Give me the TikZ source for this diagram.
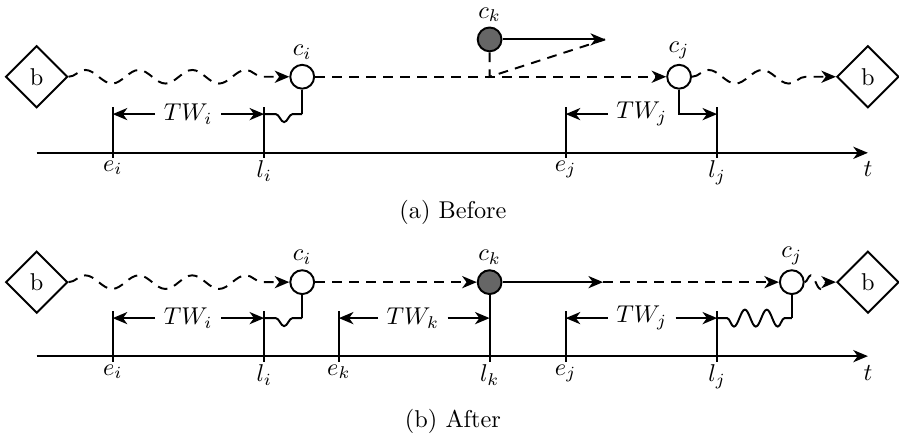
\documentclass[tikz,border=0pt]{standalone}
\usepackage{amsmath,amssymb}
\usepackage{xcolor}
\usepackage{tikz}
\usetikzlibrary{arrows.meta, positioning, shapes.geometric, decorations.pathmorphing}

\begin{document}
\begin{tikzpicture}[
  every label/.style={inner sep=1.8pt},
  depot/.style={draw, thick, diamond, aspect=1, minimum size=25.5pt, inner sep=0pt, fill=white},
  cust/.style={draw, thick, circle, minimum size=9.8pt, inner sep=0pt, fill=white},
  served/.style={cust, fill=black!60},
  arrow/.style={-{Stealth[length=6pt, width=5pt, inset=1.8pt]}, thick},
  route/.style={arrow, dash pattern=on 4pt off 3pt},
  wavy/.style={route, decorate, decoration={snake, segment length=22pt, amplitude=2.8pt, post length=3pt}},
  tickline/.style={thick},
  tlabel/.style={anchor=north, inner sep=1pt}
]
  \useasboundingbox (0,0) rectangle (13.0,-6.33);

  % (a) Before
  \node[depot] (bL1) at (0.53,-1.11) {b};
  \node[cust, label={above:$c_i$}] (ci1) at (4.37,-1.11) {};
  \node[served, label={above:$c_k$}] (ck1) at (7.08,-0.57) {};
  \node[cust, label={above:$c_j$}] (cj1) at (9.82,-1.11) {};
  \node[depot] (bR1) at (12.55,-1.11) {b};
  \coordinate (ckold1) at (7.08,-1.11);
  \coordinate (cknew1) at (8.75,-0.57);

  \draw[wavy] (bL1) -- (ci1);
  \draw[route] (ci1) -- (cj1);
  \draw[wavy] (cj1) -- (bR1);
  \draw[arrow] (ck1) -- (cknew1);
  \draw[thick, dash pattern=on 4pt off 3pt] (ck1) -- (ckold1) -- (cknew1);

  \coordinate (t0A) at (0.53,-2.21);
  \coordinate (t1A) at (12.55,-2.21);
  \draw[arrow] (t0A) -- (t1A);
  \node[tlabel, below=2.5pt of t1A] (tA) {$t$};

  \coordinate (eiT1) at (1.63,-1.55);
  \coordinate (liT1) at (3.82,-1.55);
  \coordinate (ejT1) at (8.18,-1.55);
  \coordinate (ljT1) at (10.37,-1.55);
  \node[tlabel] (ei1) at (1.63,-2.28) {$e_i$};
  \node[tlabel] (li1) at (3.82,-2.28) {$l_i$};
  \node[tlabel] (ej1) at (8.18,-2.28) {$e_j$};
  \node[tlabel] (lj1) at (10.37,-2.28) {$l_j$};
  \draw[tickline] (eiT1) -- (ei1);
  \draw[tickline] (liT1) -- (li1);
  \draw[tickline] (ejT1) -- (ej1);
  \draw[tickline] (ljT1) -- (lj1);

  \node (twi1) at (2.72,-1.65) {$TW_i$};
  \draw[arrow] (twi1) -- (eiT1 |- twi1);
  \draw[arrow] (twi1) -- (liT1 |- twi1);
  \node (twj1) at (9.28,-1.65) {$TW_j$};
  \draw[arrow] (twj1) -- (ejT1 |- twj1);
  \draw[arrow] (cj1) |- (ljT1 |- twj1);

  \coordinate (ciw1) at (ci1 |- twi1);
  \draw[thick] (ci1) -- (ciw1);
  \draw[thick, decorate, decoration={snake, segment length=11pt, amplitude=3.3pt, pre length=4pt}]
    (ciw1) -- (liT1 |- twi1);

  \node (capA) at (6.55,-3.07) {(a) Before};

  % (b) After
  \node[depot] (bL2) at (0.53,-4.08) {b};
  \node[cust, label={above:$c_i$}] (ci2) at (4.37,-4.08) {};
  \node[served, label={above:$c_k$}] (ck2) at (7.08,-4.08) {};
  \node[cust, label={above:$c_j$}] (cj2) at (11.45,-4.08) {};
  \node[depot] (bR2) at (12.55,-4.08) {b};
  \coordinate (ckmid2) at (8.72,-4.08);

  \draw[wavy] (bL2) -- (ci2);
  \draw[route] (ci2) -- (ck2);
  \draw[arrow] (ck2) -- (ckmid2);
  \draw[route] (ckmid2) -- (cj2);
  \draw[wavy, decoration={segment length=8pt}] (cj2) -- (bR2);

  \coordinate (t0B) at (0.53,-5.15);
  \coordinate (t1B) at (12.55,-5.15);
  \draw[arrow] (t0B) -- (t1B);
  \node[tlabel, below=2.5pt of t1B] (tB) {$t$};

  \coordinate (eiT2) at (1.63,-4.50);
  \coordinate (liT2) at (3.82,-4.50);
  \coordinate (ekT2) at (4.90,-4.50);
  \coordinate (ejT2) at (8.18,-4.50);
  \coordinate (ljT2) at (10.37,-4.50);
  \node[tlabel] (ei2) at (1.63,-5.23) {$e_i$};
  \node[tlabel] (li2) at (3.82,-5.23) {$l_i$};
  \node[tlabel] (ek2) at (4.90,-5.23) {$e_k$};
  \node[tlabel] (lk2) at (7.08,-5.23) {$l_k$};
  \node[tlabel] (ej2) at (8.18,-5.23) {$e_j$};
  \node[tlabel] (lj2) at (10.37,-5.23) {$l_j$};
  \draw[tickline] (eiT2) -- (ei2);
  \draw[tickline] (liT2) -- (li2);
  \draw[tickline] (ekT2) -- (ek2);
  \draw[tickline] (ck2) -- (lk2);
  \draw[tickline] (ejT2) -- (ej2);
  \draw[tickline] (ljT2) -- (lj2);

  \node (twi2) at (2.72,-4.60) {$TW_i$};
  \draw[arrow] (twi2) -- (eiT2 |- twi2);
  \draw[arrow] (twi2) -- (liT2 |- twi2);
  \node (twk2) at (5.97,-4.60) {$TW_k$};
  \draw[arrow] (twk2) -- (ekT2 |- twk2);
  \draw[arrow] (twk2) -- (ck2 |- twk2);
  \node (twj2) at (9.28,-4.60) {$TW_j$};
  \draw[arrow] (twj2) -- (ejT2 |- twj2);
  \draw[arrow] (twj2) -- (ljT2 |- twj2);

  \coordinate (ciw2) at (ci2 |- twi2);
  \draw[thick] (ci2) -- (ciw2);
  \draw[thick, decorate, decoration={snake, segment length=11pt, amplitude=3.3pt, pre length=4pt}]
    (ciw2) -- (liT2 |- twi2);
  \coordinate (cjw2) at (cj2 |- twj2);
  \draw[thick] (cj2) -- (cjw2);
  \draw[thick, decorate, decoration={snake, segment length=9pt, amplitude=3.5pt, pre length=3pt}]
    (cjw2) -- (ljT2 |- twj2);

  \node (capB) at (6.55,-6.09) {(b) After};
\end{tikzpicture}
\end{document}
